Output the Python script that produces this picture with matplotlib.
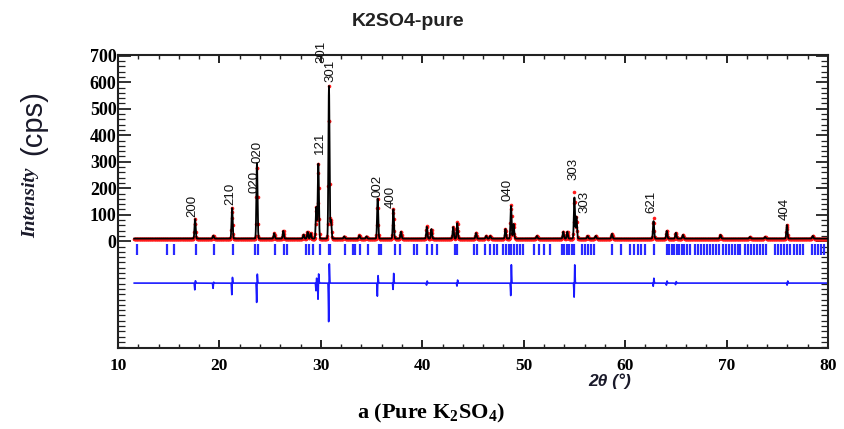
import numpy as np
import matplotlib
matplotlib.use("Agg")
import matplotlib.pyplot as plt
from matplotlib.ticker import MultipleLocator, FixedLocator

plt.rcParams['mathtext.fontset'] = 'custom'
plt.rcParams['mathtext.rm'] = 'Liberation Serif:bold'
plt.rcParams['mathtext.bf'] = 'Liberation Serif:bold'
plt.rcParams['mathtext.it'] = 'Liberation Serif:bold:italic'

# ---------------- data ----------------
background = 10
scan_start, scan_end = 11.6, 79.9

peak_pos = [17.6, 19.4, 21.25, 23.7, 25.4, 26.3, 28.3, 28.7, 29.0, 29.55, 29.75,
            30.8, 31.0, 32.3, 33.8, 34.5, 35.6, 37.15, 37.9, 40.45, 40.9, 43.05,
            43.45, 45.3, 46.3, 46.7, 48.2, 48.75, 49.0, 51.3, 53.9, 54.3, 55.0,
            55.2, 56.3, 57.1, 58.7, 62.8, 64.1, 65.0, 65.7, 69.4, 72.3, 73.8,
            75.95, 78.5]
obs_height = [84, 21, 127, 295, 30, 39, 25, 35, 30, 130, 297,
              586, 80, 18, 22, 18, 161, 122, 36, 60, 46, 54,
              72, 31, 20, 20, 46, 140, 65, 20, 36, 36, 187,
              93, 20, 20, 28, 88, 39, 32, 24, 24, 16, 16,
              62, 20]
calc_height = [84, 21, 127, 295, 30, 39, 25, 35, 30, 130, 297,
               586, 80, 18, 22, 18, 161, 122, 36, 55, 46, 54,
               69, 31, 20, 20, 46, 135, 65, 20, 36, 36, 165,
               93, 20, 20, 28, 76, 39, 32, 24, 24, 16, 16,
               62, 20]

bragg_pos = [11.9, 14.8, 15.5, 17.7, 19.5, 21.3, 23.5, 23.8, 25.45, 26.4, 26.7,
             28.55, 28.8, 29.2, 29.9, 30.8, 30.95, 32.4, 33.2, 33.4, 33.9, 34.6,
             35.75, 35.9, 37.34, 37.84, 39.15, 39.48, 40.46, 40.96, 41.45, 43.25,
             43.45, 45.06, 45.39, 46.21, 46.64, 47.03, 47.36, 48.0, 48.25, 48.5,
             48.75, 49.0, 49.3, 49.6, 49.9, 50.97, 51.46, 51.96, 52.61, 53.8, 54.0,
             54.25, 54.5, 54.75, 54.95, 55.75, 56.0, 56.3, 56.6, 56.9, 58.7, 59.6,
             60.5, 60.9, 61.3, 61.6, 62.0, 62.8, 64.1, 64.35, 64.6, 64.85, 65.1,
             65.35, 65.6, 65.85, 66.1, 66.4, 66.9, 67.2, 67.5, 67.8, 68.1, 68.4,
             68.7, 69.0, 69.3, 69.6, 69.9, 70.2, 70.5, 70.8, 71.1, 71.3, 71.8,
             72.1, 72.4, 72.7, 73.0, 73.3, 73.6, 73.9, 74.8, 75.1, 75.4, 75.7,
             76.0, 76.3, 76.6, 76.9, 77.2, 77.5, 78.4, 78.7, 79.0, 79.3, 79.6]

diff_offset = -158
diff_pos = [17.6, 19.4, 21.25, 23.7, 29.55, 29.75, 30.8, 35.6, 37.15, 40.45,
            43.45, 48.75, 55.0, 62.8, 64.1, 65.0, 76.0]
diff_up = [10, 4, 24, 38, 20, 38, 81, 31, 38, 8, 12, 72, 72, 19, 8, 6, 8]
diff_down = [26, 20, 45, 75, 30, 63, 150, 51, 26, 8, 12, 51, 57, 13, 8, 6, 8]

hkl_text = ['200', '210', '020', '020', '121', '301', '301', '002', '400',
            '040', '303', '303', '621', '404']
hkl_x = [17.35, 21.05, 23.5, 23.8, 29.9, 30.1, 30.93, 35.6, 36.9,
         48.4, 54.9, 56.0, 62.55, 75.76]
hkl_y = [93, 137, 181, 294, 330, 672, 601, 168, 125,
         150, 231, 106, 106, 80]

x_ticks = [10, 20, 30, 40, 50, 60, 70, 80]
y_ticks = [0, 100, 200, 300, 400, 500, 600, 700]

# ---------------- build profiles ----------------
tt = np.arange(scan_start, scan_end, 0.02)
tto = np.arange(scan_start, scan_end, 0.04)
sig = 0.055


def profile(x, heights):
    y = np.full_like(x, float(background))
    for p, h in zip(peak_pos, heights):
        y += (h - background) * np.exp(-0.5 * ((x - p) / sig) ** 2)
    return y


obs = profile(tto, obs_height)
calc = profile(tt, calc_height)

ttd = np.arange(scan_start, scan_end, 0.01)
diff = np.full_like(ttd, float(diff_offset))
for p, u, d in zip(diff_pos, diff_up, diff_down):
    diff += u * np.exp(-0.5 * ((ttd - p - 0.03) / 0.025) ** 2)
    diff -= d * np.exp(-0.5 * ((ttd - p + 0.03) / 0.025) ** 2)

# ---------------- figure ----------------
fig = plt.figure(figsize=(8.44, 4.29), dpi=100)
ax = fig.add_axes([118 / 844, 1 - 348 / 429, (828 - 118) / 844, (348 - 55) / 429])

ax.plot(tto, obs, 'o', ms=2.6, mec='none', color='#ff1a1a', zorder=2)
ax.plot(tt, calc, '-', lw=1.3, color='black', zorder=3)
ax.vlines(bragg_pos, -52, -10, colors='#2a2aff', lw=1.6, zorder=2)
ax.plot(ttd, diff, '-', lw=1.2, color='#1a1aff', zorder=2)

ax.set_xlim(10, 80)
ax.set_ylim(-403, 703)

ax.xaxis.set_major_locator(FixedLocator(x_ticks))
ax.xaxis.set_minor_locator(MultipleLocator(2))
ax.yaxis.set_major_locator(FixedLocator(y_ticks))
ax.yaxis.set_minor_locator(MultipleLocator(20))

ax.tick_params(axis='both', which='both', direction='in', top=True, right=True,
               color='#222222')
ax.tick_params(axis='x', which='major', length=6, width=1.4, pad=7)
ax.tick_params(axis='x', which='minor', length=3, width=1.0)
ax.tick_params(axis='y', which='major', length=9, width=1.3, pad=1)
ax.tick_params(axis='y', which='minor', length=5, width=0.9)

for lab in ax.get_xticklabels():
    lab.set_fontfamily('Liberation Serif')
    lab.set_fontweight('bold')
    lab.set_fontsize(12.5)
for lab in ax.get_yticklabels():
    lab.set_fontfamily('Liberation Serif')
    lab.set_fontweight('bold')
    lab.set_fontsize(13)

for s in ax.spines.values():
    s.set_linewidth(1.5)
    s.set_color('#222222')

for t, x, y in zip(hkl_text, hkl_x, hkl_y):
    ax.text(x, y, t, rotation=90, ha='center', va='bottom', fontsize=9.5,
            family='Liberation Sans', color='#111111', clip_on=False, zorder=5)

fig.text(408 / 844, 1 - 21 / 429, 'K2SO4-pure', ha='center', va='center',
         fontsize=14, fontweight='bold', family='Liberation Sans', color='#222222')
fig.text(31 / 844, 1 - 203 / 429, 'Intensity', rotation=90, ha='center', va='center',
         fontsize=14, fontweight='bold', style='italic', family='Liberation Serif',
         color='#1a1a2a')
fig.text(33 / 844, 1 - 123 / 429, '(cps)', rotation=90, ha='center', va='center',
         fontsize=21, family='Liberation Sans', color='#1a1a2a')
fig.text(610 / 844, 1 - 381 / 429, '2θ (°)', ha='center', va='center',
         fontsize=12.5, fontweight='bold', style='italic', family='Liberation Sans',
         color='#1a1a2a')
fig.text(431 / 844, 1 - 413 / 429, r'a (Pure K$_2$SO$_4$)', ha='center', va='center',
         fontsize=16, fontweight='bold', family='Liberation Serif', color='black')

fig.savefig('out.png', dpi=100)
